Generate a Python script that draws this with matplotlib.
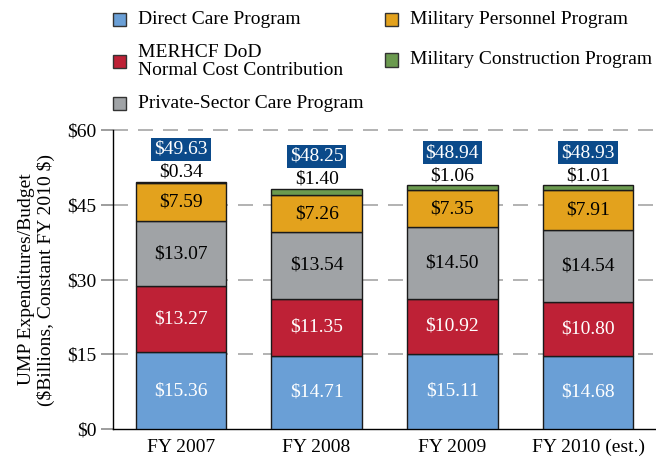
import numpy as np
import matplotlib.pyplot as plt
from matplotlib.patches import Rectangle

years = ['FY 2007', 'FY 2008', 'FY 2009', 'FY 2010 (est.)']
direct_care = [15.36, 14.71, 15.11, 14.68]
merhcf = [13.27, 11.35, 10.92, 10.80]
private_care = [13.07, 13.54, 14.50, 14.54]
mil_personnel = [7.59, 7.26, 7.35, 7.91]
mil_construction = [0.34, 1.40, 1.06, 1.01]
totals = [49.63, 48.25, 48.94, 48.93]

series = [direct_care, merhcf, private_care, mil_personnel, mil_construction]
colors = ['#6a9fd6', '#be2136', '#a0a3a6', '#e3a21d', '#6b9a4f']
text_colors = ['white', 'white', 'black', 'black', None]
names = ['Direct Care Program', 'MERHCF DoD\nNormal Cost Contribution',
         'Private-Sector Care Program', 'Military Personnel Program',
         'Military Construction Program']

plt.rcParams['font.family'] = ['Liberation Serif', 'DejaVu Serif']
fs = 14

fig = plt.figure(figsize=(6.56, 4.59), dpi=100)
ax = fig.add_axes([113 / 656, 30 / 459, 543 / 656, 299 / 459])

x = np.arange(len(years))
bottom = np.zeros(len(years))
for vals, col, tc in zip(series, colors, text_colors):
    vals = np.array(vals)
    ax.bar(x, vals, 0.665, bottom=bottom, color=col, edgecolor='#1a1a1a',
           linewidth=1.0, zorder=3)
    if tc is not None:
        for xi, b, v in zip(x, bottom, vals):
            ax.text(xi, b + v / 2, '$%.2f' % v, ha='center', va='center',
                    color=tc, fontsize=fs, zorder=4)
    bottom = bottom + vals

top = bottom
for xi, t, mc, tot in zip(x, top, mil_construction, totals):
    ax.text(xi, t + 1.9, '$%.2f' % mc, ha='center', va='center',
            fontsize=fs, zorder=4, clip_on=False)
    ax.text(xi, t + 6.5, '$%.2f' % tot, ha='center', va='center',
            fontsize=fs, color='white', zorder=4, clip_on=False,
            bbox=dict(boxstyle='square,pad=0.15', facecolor='#0b4a8a',
                      edgecolor='none'))

ax.set_xlim(-0.5, 3.5)
ax.set_ylim(0, 60)
ax.set_yticks([0, 15, 30, 45, 60])
ax.set_yticklabels(['$0', '$15', '$30', '$45', '$60'], fontsize=fs)
ax.set_xticks(x)
ax.set_xticklabels(years, fontsize=fs)
ax.tick_params(axis='x', length=0, pad=7)
ax.tick_params(axis='y', length=9, width=1.2, direction='out', pad=3,
               color='#8c8c8c')
for yv in [15, 30, 45, 60]:
    ax.axhline(yv, color='#a6a6a6', linestyle=(0, (9, 6)), linewidth=1.2,
               zorder=1, clip_on=False)
ax.spines['top'].set_visible(False)
ax.spines['right'].set_visible(False)
ax.spines['left'].set_linewidth(1)
ax.spines['bottom'].set_linewidth(1)
ax.set_ylabel('UMP Expenditures/Budget\n(\\$Billions, Constant FY 2010 \\$)',
              fontsize=fs, labelpad=9, linespacing=1.1)

# legend drawn by hand to keep the rows aligned like the original
leg_pos = [(113, 19.5), (113, 61.5), (113, 103.5), (385, 19.5), (385, 60)]
for (px, py), col, name in zip(leg_pos, colors, names):
    fig.add_artist(Rectangle((px / 656, 1 - (py + 6.5) / 459), 13 / 656,
                             13 / 459, facecolor=col, edgecolor='#333333',
                             linewidth=1, transform=fig.transFigure))
    fig.text((px + 25) / 656, 1 - py / 459, name, ha='left', va='center',
             fontsize=fs, linespacing=1.1)

fig.savefig('out.png', dpi=100)
